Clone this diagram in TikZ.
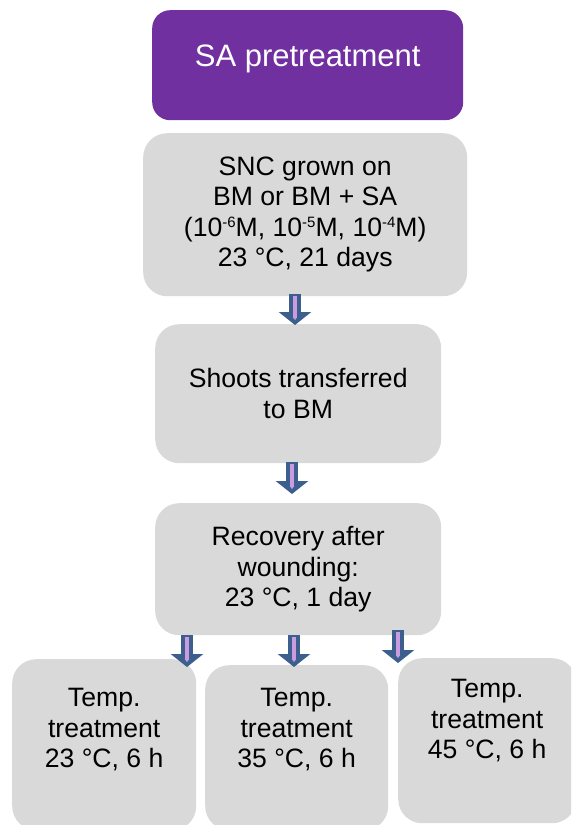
\documentclass[tikz,border=0pt]{standalone}
\usepackage{fontspec}
\setmainfont{Liberation Sans}
\usetikzlibrary{arrows.meta}

\definecolor{prepurple}{HTML}{7030A0}
\definecolor{boxgray}{HTML}{D9D9D9}
\definecolor{arrowblue}{HTML}{3C5F8E}
\definecolor{stripelilac}{HTML}{C99BE0}

\newcommand{\molexp}[1]{\raisebox{9pt}{\fontsize{15}{15}\selectfont #1}}

\tikzset{
  stepbox/.style={fill=boxgray, rounded corners=24pt, align=center, inner sep=0pt,
    anchor=north west, font=\fontsize{26.6}{30.5}\selectfont},
  headbox/.style={stepbox, fill=prepurple, text=white, rounded corners=18pt,
    font=\fontsize{31}{36}\selectfont, text height=22pt, text depth=20pt},
  tempbox/.style={stepbox, minimum width=184pt},
  flowarrow/.style 2 args={draw=arrowblue, line width=12pt,
    -{Triangle[width=32pt,length=13pt]}, shorten <=#1, shorten >=#2,
    postaction={draw=stripelilac, line width=4.5pt, -{Triangle[width=4.5pt,length=3pt]},
      shorten <=#1+2pt, shorten >=#2+5pt}}
}

\begin{document}
\begin{tikzpicture}[x=1pt, y=-1pt]
            \useasboundingbox (0,0) rectangle (571,825);
            \clip (0,0) rectangle (571,825);
            % boxes
            \node[headbox, minimum width=311pt, minimum height=110pt] (pre) at (152,10) {SA pretreatment};
            \node[stepbox, minimum width=324pt, minimum height=163pt] (snc) at (143,133)
                {SNC grown on\\BM or BM + SA\\(10\molexp{-6}M, 10\molexp{-5}M, 10\molexp{-4}M)\\23 °C, 21 days};
            \node[stepbox, minimum width=286pt, minimum height=139pt] (shoots) at (155,324) {Shoots transferred\\to BM};
            \node[stepbox, minimum width=286pt, minimum height=132pt] (recovery) at (155,503)
                {Recovery after\\wounding:\\23 °C, 1 day};
            \node[tempbox, minimum height=171pt, text depth=33pt] (tempA) at (12,659) {Temp.\\treatment\\23 °C, 6 h};
            \node[tempbox, minimum width=183pt, minimum height=165pt, text depth=39pt] (tempB) at (205,665) {Temp.\\treatment\\35 °C, 6 h};
            \node[tempbox, minimum width=178pt, minimum height=165pt, text depth=43pt] (tempC) at (398,658) {Temp.\\treatment\\45 °C, 6 h};
            % arrows
            \coordinate (ax1) at (295,0);
            \coordinate (ax2) at (292,0);
            \coordinate (ax3) at (187,0);
            \coordinate (ax4) at (294,0);
            \coordinate (ax5) at (398,0);
            \draw[flowarrow={-2pt}{-1pt}] (ax1 |- snc.south) -- (ax1 |- shoots.north);
            \draw[flowarrow={-1pt}{9pt}] (ax2 |- shoots.south) -- (ax2 |- recovery.north);
            \draw[flowarrow={0pt}{-8pt}] (ax3 |- recovery.south) -- (ax3 |- tempA.north);
            \draw[flowarrow={0pt}{-2pt}] (ax4 |- recovery.south) -- (ax4 |- tempB.north);
            \draw[flowarrow={-5pt}{-5pt}] (ax5 |- recovery.south) -- (ax5 |- tempC.north);
        \end{tikzpicture}
\end{document}
